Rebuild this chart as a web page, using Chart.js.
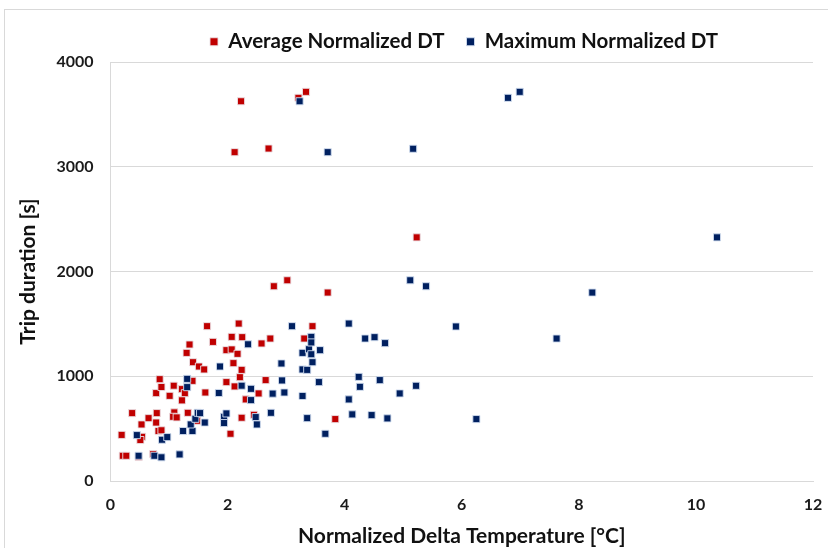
<!DOCTYPE html>
<html>
<head>
<meta charset="utf-8">
<script src="https://cdn.jsdelivr.net/npm/chart.js@4"></script>
<style>
  html, body { margin: 0; padding: 0; background: #ffffff; }
  #wrap { position: relative; width: 828px; height: 548px; }
  canvas { display: block; }
</style>
</head>
<body>
<div id="wrap"><canvas id="chart" width="828" height="548"></canvas></div>
<script>
// Average normalized delta temperature per trip [°C] and trip duration [s]
const avgDT = [0.19, 0.21, 0.27, 0.48, 0.37, 0.53, 0.65, 0.54, 0.51, 0.73,
  0.79, 0.78, 0.82, 0.87, 0.78, 0.84, 0.87, 1.01, 1.08, 1.09,
  1.07, 1.13, 1.22, 1.27, 1.22, 1.30, 1.35, 1.41, 1.51, 1.60,
  1.40, 1.32, 1.48, 1.62, 1.65, 1.75, 2.19, 2.07, 2.25, 1.98,
  2.07, 2.17, 2.10, 2.24, 2.21, 1.98, 2.12, 2.31, 2.53, 2.65,
  2.58, 2.73, 2.24, 2.45, 2.05, 3.31, 3.45, 3.84, 2.23, 2.70,
  2.12, 3.21, 3.34, 2.79, 3.02, 3.71, 5.23];
const avgDuration = [440, 241, 241, 229, 648, 540, 600, 422, 391, 257,
  648, 558, 477, 484, 839, 972, 897, 813, 910, 655,
  613, 607, 877, 838, 770, 1223, 1303, 1134, 1093, 1065,
  956, 651, 575, 845, 1478, 1328, 1503, 1376, 1373, 1249,
  1256, 1214, 1125, 1061, 991, 944, 903, 779, 836, 963,
  1313, 1360, 604, 632, 451, 1360, 1478, 591, 3625, 3174,
  3139, 3658, 3715, 1859, 1916, 1799, 2326];

// Maximum normalized delta temperature per trip [°C] and trip duration [s]
const maxDT = [0.45, 0.48, 0.75, 0.87, 1.18, 0.88, 0.97, 1.24, 1.40, 1.37,
  1.45, 1.49, 1.53, 1.61, 1.31, 1.31, 1.85, 1.87, 1.94, 1.94,
  1.98, 2.24, 2.40, 2.40, 2.35, 2.48, 2.50, 2.74, 2.77, 2.97,
  2.93, 2.92, 3.10, 3.28, 3.28, 3.36, 3.28, 3.39, 3.43, 3.43,
  3.43, 3.45, 3.58, 3.56, 3.36, 3.67, 4.07, 4.07, 4.35, 4.51,
  4.69, 4.24, 4.26, 4.60, 4.13, 4.46, 4.73, 4.94, 5.22, 5.90,
  6.25, 3.23, 3.71, 5.17, 6.79, 6.99, 10.36, 5.12, 5.39, 8.23,
  7.62];
const maxDuration = [438, 241, 241, 226, 254, 394, 419, 477, 477, 540,
  594, 651, 648, 558, 975, 896, 840, 1093, 613, 553,
  645, 910, 880, 772, 1305, 610, 540, 651, 834, 845,
  960, 1122, 1478, 812, 1065, 1061, 1223, 1258, 1210, 1376,
  1323, 1134, 1249, 944, 600, 451, 1503, 779, 1360, 1373,
  1316, 994, 899, 963, 636, 629, 598, 836, 909, 1475,
  591, 3625, 3139, 3172, 3658, 3715, 2326, 1916, 1859, 1799,
  1360];

const seriesNames = ['Average Normalized DT', 'Maximum Normalized DT'];
const xTickValues = [0, 2, 4, 6, 8, 10, 12];
const yTickValues = [0, 1000, 2000, 3000, 4000];

const RED = '#C00000';
const NAVY = '#002060';
const FONT = "Lato, 'Open Sans', 'Liberation Sans', sans-serif";

// target plot rectangle inside the 828x548 canvas
const PLOT = { left: 110.5, top: 62, right: 813, bottom: 481 };

function toPoints(xs, ys) {
  return xs.map((x, i) => ({ x: x, y: ys[i] }));
}

// light frame around the chart object
const framePlugin = {
  id: 'frame',
  beforeDraw(chart) {
    const ctx = chart.ctx;
    ctx.save();
    ctx.fillStyle = '#ffffff';
    ctx.fillRect(0, 0, chart.width, chart.height);
    ctx.strokeStyle = '#d9d9d9';
    ctx.lineWidth = 1;
    ctx.strokeRect(4.5, 9.5, chart.width + 20, chart.height + 20);
    ctx.restore();
  }
};

// center the legend over the plot area instead of the whole canvas
const legendCenterPlugin = {
  id: 'legendCenter',
  afterLayout(chart) {
    const lg = chart.legend;
    if (!lg) return;
    const target = 464;
    const shift = target - (lg.left + lg.right) / 2;
    lg.left += shift;
    lg.right += shift;
  }
};

const chart = new Chart(document.getElementById('chart'), {
  type: 'scatter',
  data: {
    datasets: [
      {
        label: seriesNames[0],
        data: toPoints(avgDT, avgDuration),
        backgroundColor: RED,
        borderColor: 'rgba(235,225,230,0.9)',
        borderWidth: 1,
        pointStyle: 'rect',
        pointRadius: 5,
        pointHoverRadius: 5,
        order: 1
      },
      {
        label: seriesNames[1],
        data: toPoints(maxDT, maxDuration),
        backgroundColor: NAVY,
        borderColor: 'rgba(210,222,240,0.9)',
        borderWidth: 1,
        pointStyle: 'rect',
        pointRadius: 5,
        pointHoverRadius: 5,
        order: 0
      }
    ]
  },
  options: {
    responsive: false,
    animation: false,
    layout: { padding: { left: 16, top: 10, right: 15, bottom: 0 } },
    plugins: {
      tooltip: { enabled: false },
      legend: {
        display: true,
        position: 'top',
        labels: {
          usePointStyle: true,
          pointStyle: 'rect',
          boxWidth: 8,
          boxHeight: 8,
          padding: 22,
          color: '#111111',
          font: { family: FONT, size: 20.5, weight: 'bold' },
          sort: (a, b) => a.datasetIndex - b.datasetIndex
        }
      }
    },
    scales: {
      x: {
        type: 'linear',
        min: xTickValues[0],
        max: xTickValues[xTickValues.length - 1],
        afterBuildTicks(scale) { scale.ticks = xTickValues.map(v => ({ value: v })); },
        afterFit(scale) { scale.paddingLeft = 0; scale.paddingRight = 0; scale.height = 68; },
        grid: { display: false, drawTicks: false },
        border: { display: true, color: '#d9d9d9', width: 1 },
        ticks: {
          padding: 14,
          color: '#1a1a1a',
          font: { family: FONT, size: 16, weight: 'bold' },
          callback: (v) => String(v)
        },
        title: {
          display: true,
          text: 'Normalized Delta Temperature [°C]',
          color: '#111111',
          font: { family: FONT, size: 21, weight: 'bold' },
          padding: { top: 10, bottom: 0 }
        }
      },
      y: {
        type: 'linear',
        min: yTickValues[0],
        max: yTickValues[yTickValues.length - 1],
        afterBuildTicks(scale) { scale.ticks = yTickValues.map(v => ({ value: v })); },
        afterFit(scale) { scale.width = 95; },
        grid: { color: '#d9d9d9', lineWidth: 1, drawTicks: false },
        border: { display: true, color: '#d9d9d9', width: 1 },
        ticks: {
          padding: 17,
          color: '#1a1a1a',
          font: { family: FONT, size: 16, weight: 'bold' },
          callback: (v) => String(v)
        },
        title: {
          display: true,
          text: 'Trip duration [s]',
          color: '#111111',
          font: { family: FONT, size: 21, weight: 'bold' },
          padding: { top: 0, bottom: 16 }
        }
      }
    }
  },
  plugins: [framePlugin, legendCenterPlugin]
});

// nudge the layout padding so the plot rectangle lands where intended
for (let pass = 0; pass < 3; pass++) {
  const a = chart.chartArea;
  const p = chart.config.options.layout.padding;
  p.left += PLOT.left - a.left;
  p.top += PLOT.top - a.top;
  p.right += a.right - PLOT.right;
  p.bottom += a.bottom - PLOT.bottom;
  chart.update();
}
</script>
</body>
</html>
